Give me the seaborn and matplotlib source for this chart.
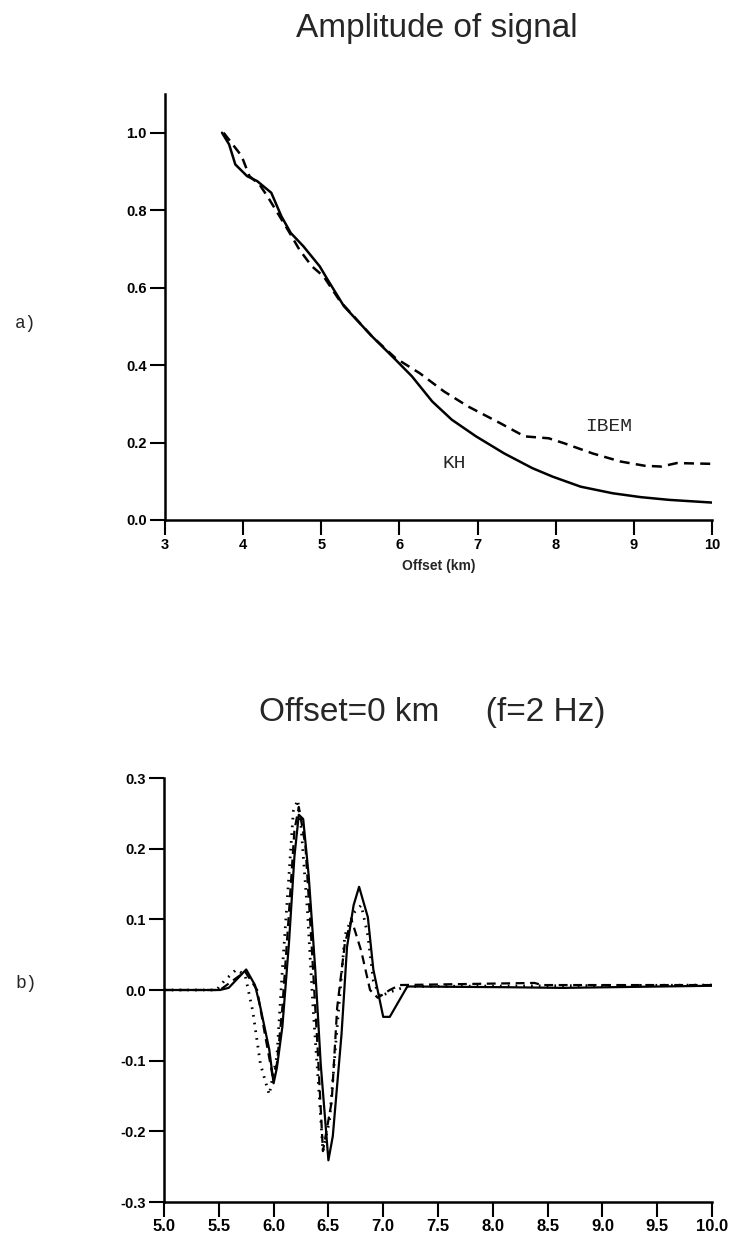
import numpy as np
import pandas as pd
import matplotlib
matplotlib.use("Agg")
import matplotlib.pyplot as plt
import seaborn as sns

# --- Panel a: normalised amplitude versus offset ---
kh_offset = [3.73, 3.82, 3.90, 4.05, 4.18, 4.36, 4.49, 4.61, 4.77, 4.98, 5.08,
             5.29, 5.65, 5.95, 6.16, 6.42, 6.67, 6.98, 7.34, 7.70, 7.96, 8.32,
             8.73, 9.09, 9.45, 10.0]
kh_amp = [1.00, 0.97, 0.918, 0.888, 0.875, 0.845, 0.784, 0.741, 0.707, 0.655,
          0.621, 0.552, 0.474, 0.414, 0.371, 0.306, 0.259, 0.216, 0.172, 0.134,
          0.112, 0.086, 0.069, 0.059, 0.052, 0.045]

ibem_offset = [3.75, 3.85, 3.98, 4.08, 4.21, 4.31, 4.44, 4.57, 4.72, 4.88, 5.03,
               5.24, 5.65, 5.95, 6.26, 6.57, 6.88, 7.29, 7.60, 7.91, 8.11, 8.47,
               8.83, 9.14, 9.35, 9.55, 10.0]
ibem_amp = [1.00, 0.974, 0.94, 0.888, 0.866, 0.836, 0.793, 0.75, 0.698, 0.655,
            0.629, 0.565, 0.474, 0.418, 0.379, 0.332, 0.293, 0.25, 0.216, 0.211,
            0.198, 0.172, 0.151, 0.14, 0.138, 0.147, 0.145]

a_xticks = [3, 4, 5, 6, 7, 8, 9, 10]
a_yticks = [0.0, 0.2, 0.4, 0.6, 0.8, 1.0]

# --- Panel b: seismograms at zero offset ---
solid_t = [5.0, 5.51, 5.59, 5.75, 5.83, 5.88, 5.96, 6.00, 6.03, 6.08, 6.14,
           6.19, 6.23, 6.27, 6.32, 6.38, 6.43, 6.50, 6.54, 6.62, 6.67, 6.73,
           6.78, 6.86, 6.91, 7.00, 7.06, 7.22, 8.09, 8.64, 10.0]
solid_u = [0.0, 0.0, 0.003, 0.029, 0.007, -0.025, -0.084, -0.132, -0.110,
           -0.052, 0.066, 0.189, 0.248, 0.242, 0.162, 0.029, -0.105, -0.241,
           -0.207, -0.062, 0.061, 0.120, 0.146, 0.103, 0.029, -0.038, -0.038,
           0.005, 0.004, 0.003, 0.006]

dashed_t = [5.0, 5.51, 5.74, 5.85, 5.92, 5.99, 6.03, 6.08, 6.14, 6.19, 6.23,
            6.29, 6.34, 6.40, 6.45, 6.53, 6.58, 6.65, 6.71, 6.80, 6.88, 6.95,
            7.06, 7.15, 8.38, 8.45, 10.0]
dashed_u = [0.0, 0.0, 0.026, 0.0, -0.062, -0.121, -0.105, -0.025, 0.109, 0.226,
            0.259, 0.205, 0.082, -0.078, -0.228, -0.158, -0.025, 0.066, 0.100,
            0.055, 0.0, -0.011, 0.0, 0.007, 0.010, 0.007, 0.007]

dotted_t = [5.0, 5.48, 5.55, 5.66, 5.74, 5.81, 5.88, 5.96, 6.03, 6.08, 6.14,
            6.18, 6.22, 6.25, 6.31, 6.36, 6.42, 6.45, 6.51, 6.58, 6.65, 6.73,
            6.80, 6.86, 6.91, 6.97, 7.06, 7.21, 10.0]
dotted_u = [0.0, 0.0, 0.013, 0.029, 0.021, -0.030, -0.105, -0.148, -0.094,
            0.029, 0.162, 0.253, 0.269, 0.232, 0.109, -0.025, -0.158, -0.228,
            -0.185, -0.052, 0.077, 0.109, 0.120, 0.077, 0.013, -0.009, -0.003,
            0.005, 0.007]

b_xticks = [5.0, 5.5, 6.0, 6.5, 7.0, 7.5, 8.0, 8.5, 9.0, 9.5, 10.0]
b_yticks = [-0.3, -0.2, -0.1, 0.0, 0.1, 0.2, 0.3]

sns.set_style("ticks")
plt.rcParams["font.family"] = ["Liberation Sans", "DejaVu Sans"]
plt.rcParams["axes.unicode_minus"] = False

W, H = 730, 1239
fig = plt.figure(figsize=(W / 100, H / 100), dpi=100)


def box(x0, x1, y_top, y_bot):
    """Axes rectangle from pixel edges measured from the top-left corner."""
    return [x0 / W, 1 - y_bot / H, (x1 - x0) / W, (y_bot - y_top) / H]


ax_a = fig.add_axes(box(165, 712, 94, 520))
ax_b = fig.add_axes(box(164, 712, 778, 1202))

# panel a curves
sns.lineplot(x=kh_offset, y=kh_amp, ax=ax_a, color="black", lw=1.8,
             estimator=None, sort=False)
sns.lineplot(x=ibem_offset, y=ibem_amp, ax=ax_a, color="black", lw=1.8,
             estimator=None, sort=False, linestyle=(0, (4, 2.5)))

ax_a.set_xlim(3, 10)
ax_a.set_ylim(0, 1.1)
ax_a.set_xticks(a_xticks)
ax_a.set_xticklabels([str(v) for v in a_xticks])
ax_a.set_yticks(a_yticks)
ax_a.set_yticklabels([f"{v:.1f}" for v in a_yticks])
ax_a.set_xlabel("Offset (km)", fontsize=10, fontweight="bold", labelpad=5)
ax_a.set_ylabel("")
ax_a.text(6.7, 0.147, "KH", family="Liberation Mono", fontsize=14,
          ha="center", va="center")
ax_a.text(8.68, 0.241, "IBEM", family="Liberation Mono", fontsize=14,
          ha="center", va="center")

# panel b traces
sns.lineplot(x=solid_t, y=solid_u, ax=ax_b, color="black", lw=1.6,
             estimator=None, sort=False)
sns.lineplot(x=dashed_t, y=dashed_u, ax=ax_b, color="black", lw=1.6,
             estimator=None, sort=False, linestyle=(0, (4, 2.5)))
sns.lineplot(x=dotted_t, y=dotted_u, ax=ax_b, color="black", lw=2.0,
             estimator=None, sort=False, linestyle=(0, (0.6, 2.2)))

ax_b.set_xlim(5, 10)
ax_b.set_ylim(-0.3, 0.3)
ax_b.set_xticks(b_xticks)
ax_b.set_xticklabels([f"{v:.1f}" for v in b_xticks])
ax_b.set_yticks(b_yticks)
ax_b.set_yticklabels([f"{v:.1f}" for v in b_yticks])
ax_b.set_xlabel("")
ax_b.set_ylabel("")

for ax in (ax_a, ax_b):
    sns.despine(ax=ax)
    for side in ("left", "bottom"):
        ax.spines[side].set_linewidth(1.8)
        ax.spines[side].set_color("black")
    ax.tick_params(axis="both", direction="out", length=11, width=1.5,
                   colors="black", pad=2)
    for lab in ax.get_xticklabels() + ax.get_yticklabels():
        lab.set_fontweight("bold")

ax_a.tick_params(axis="both", labelsize=10.5)
ax_b.tick_params(axis="y", labelsize=10.5)
ax_b.tick_params(axis="x", labelsize=12, pad=1)

fig.text(437 / W, 1 - 28 / H, "Amplitude of signal", fontsize=24,
         ha="center", va="center")
fig.text(432 / W, 1 - 712 / H, "Offset=0 km     (f=2 Hz)", fontsize=24,
         ha="center", va="center")
fig.text(26 / W, 1 - 323 / H, "a)", family="Liberation Mono",
         fontsize=13, ha="center", va="center")
fig.text(26 / W, 1 - 983 / H, "b)", family="Liberation Mono",
         fontsize=13, ha="center", va="center")

fig.savefig("out.png", dpi=100, facecolor="white")
